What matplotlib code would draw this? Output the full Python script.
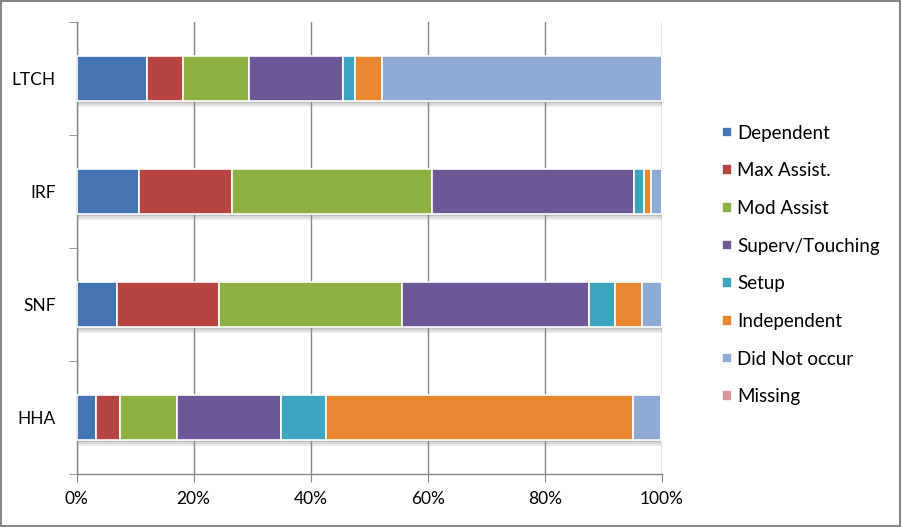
import numpy as np
import matplotlib
matplotlib.use("Agg")
import matplotlib.pyplot as plt
from matplotlib.patches import Rectangle

plt.rcParams['font.family'] = ['Lato', 'DejaVu Sans']

# settings, bottom to top
settings = ["HHA", "SNF", "IRF", "LTCH"]
categories = ["Dependent", "Max Assist.", "Mod Assist", "Superv/Touching",
              "Setup", "Independent", "Did Not occur", "Missing"]

dependent = [3.3, 7.0, 10.6, 12.0]
max_assist = [4.2, 17.4, 15.9, 6.2]
mod_assist = [9.7, 31.2, 34.3, 11.2]
superv = [17.7, 32.0, 34.4, 16.2]
setup = [7.7, 4.3, 1.8, 2.0]
independent = [52.5, 4.6, 1.2, 4.5]
did_not_occur = [4.8, 3.5, 1.8, 47.9]
missing = [0.0, 0.0, 0.0, 0.0]

series = [dependent, max_assist, mod_assist, superv, setup,
          independent, did_not_occur, missing]
colors = ["#4574B2", "#B8443F", "#8DB043", "#6D5897", "#3CA4BF",
          "#E98731", "#8FAAD4", "#D8959A"]

xticks = [0, 20, 40, 60, 80, 100]

fig = plt.figure(figsize=(9.02, 5.27), dpi=100)
ax = fig.add_axes([76.5 / 902, 1 - 474 / 527, (662 - 76.5) / 902, (474 - 22) / 527])

y = np.arange(len(settings))
bh = 0.39

# soft shadow under each bar
totals = np.sum(series, axis=0)
for k, a in enumerate([0.55, 0.35, 0.18]):
    ax.barh(y - bh / 2 - 0.012 - k * 0.018, totals, height=0.018, color="#8c8c8c",
            alpha=a, linewidth=0, zorder=2)

left = np.zeros(len(settings))
for vals, col, name in zip(series, colors, categories):
    ax.barh(y, vals, left=left, height=bh, color=col, edgecolor="white",
            linewidth=1.2, label=name, zorder=3)
    left += np.array(vals)

ax.set_xlim(0, 100)
ax.set_ylim(-0.5, 3.5)
ax.set_xticks(xticks)
ax.set_xticklabels([f"{t}%" for t in xticks], fontsize=12.5)
ax.set_yticks(y)
ax.set_yticklabels(settings, fontsize=12.5)
ax.set_yticks(np.arange(-0.5, 4.0, 1.0), minor=True)
ax.tick_params(axis="y", which="major", length=0, pad=15)
ax.tick_params(axis="y", which="minor", length=6, direction="out", color="#868686")
ax.tick_params(axis="x", length=6, direction="out", color="#868686", pad=6)

ax.xaxis.grid(True, color="#868686", linewidth=1)
ax.set_axisbelow(True)
for s in ["top", "right"]:
    ax.spines[s].set_visible(False)
for s in ["left", "bottom"]:
    ax.spines[s].set_color("#868686")
    ax.spines[s].set_linewidth(1)

leg = ax.legend(loc="upper left", bbox_to_anchor=(1.074, 0.81), frameon=False,
                fontsize=13.5, handlelength=0.5, handleheight=0.5,
                handletextpad=0.3, labelspacing=1.1)

fig.patches.append(Rectangle((0.001, 0.001), 0.997, 0.997, transform=fig.transFigure,
                             fill=False, edgecolor="#868686", linewidth=1.5))

fig.savefig("out.png", dpi=100)
